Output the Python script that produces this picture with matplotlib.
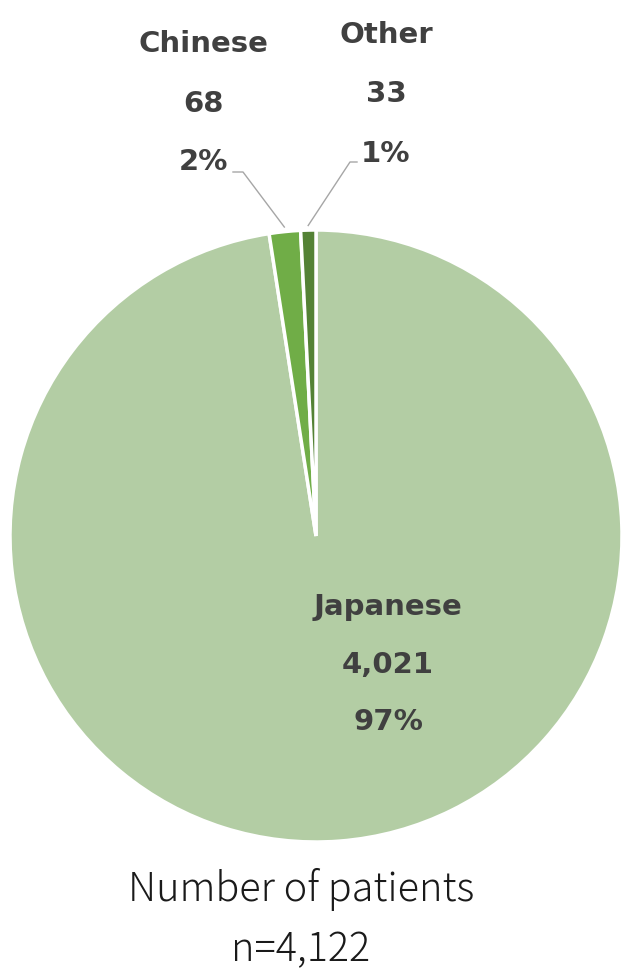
import numpy as np
import matplotlib.pyplot as plt

# %% ---------------------------------
#           data
# ------------------------------------
categories = ['Japanese', 'Chinese', 'Other']
counts = [4021, 68, 33]
pct_labels = ['97%', '2%', '1%']          # as printed on the chart
colors = ['#B3CDA4', '#70AD47', '#548235']
total = sum(counts)

# %% ---------------------------------
#           figure (pixel coords, y up)
# ------------------------------------
W, H = 621, 973
fig = plt.figure(figsize=(W / 100, H / 100), dpi=100)
ax = fig.add_axes([0, 0, 1, 1])

cx, cy, rad = 316, H - 536, 306
wedges, _ = ax.pie(counts, colors=colors, startangle=90, counterclock=False,
                   center=(cx, cy), radius=rad,
                   wedgeprops=dict(edgecolor='white', linewidth=2.5))
ax.set_xlim(0, W)
ax.set_ylim(0, H)
ax.set_aspect('equal')
ax.axis('off')

txt_col = '#404040'
lab_kw = dict(ha='center', va='baseline', fontsize=21, fontweight='bold',
              color=txt_col, family='DejaVu Sans')

# label block positions (center x, baselines of the three lines) and leader elbow
label_pos = {'Japanese': (388, [615, 673, 730]),
             'Chinese': (203, [52, 112, 170]),
             'Other': (386, [43, 102, 162])}
elbow = {'Chinese': ((233, 172), (243, 172)), 'Other': ((357, 162), (350, 162))}

for w, cat, n, p in zip(wedges, categories, counts, pct_labels):
    x0, ys = label_pos[cat]
    for s, y in zip([cat, f'{n:,}', p], ys):
        ax.text(x0, H - y, s, **lab_kw)
    if cat in elbow:
        mid = np.deg2rad((w.theta1 + w.theta2) / 2)
        rx = cx + rad * 1.015 * np.cos(mid)
        ry = cy + rad * 1.015 * np.sin(mid)
        (ax_, ay_), (bx_, by_) = elbow[cat]
        ax.plot([ax_, bx_, rx], [H - ay_, H - by_, ry], color='#A6A6A6', lw=1)

font = ['Noto Sans CJK JP', 'DejaVu Sans']
ax.text(301, H - 901, 'Number of patients', ha='center', va='baseline',
        fontsize=28.5, color='#1a1a1a', family=font, fontweight='light')
ax.text(301, H - 961, f'n={total:,}', ha='center', va='baseline',
        fontsize=28.5, color='#1a1a1a', family=font, fontweight='light')

fig.savefig('out.png', dpi=100)
